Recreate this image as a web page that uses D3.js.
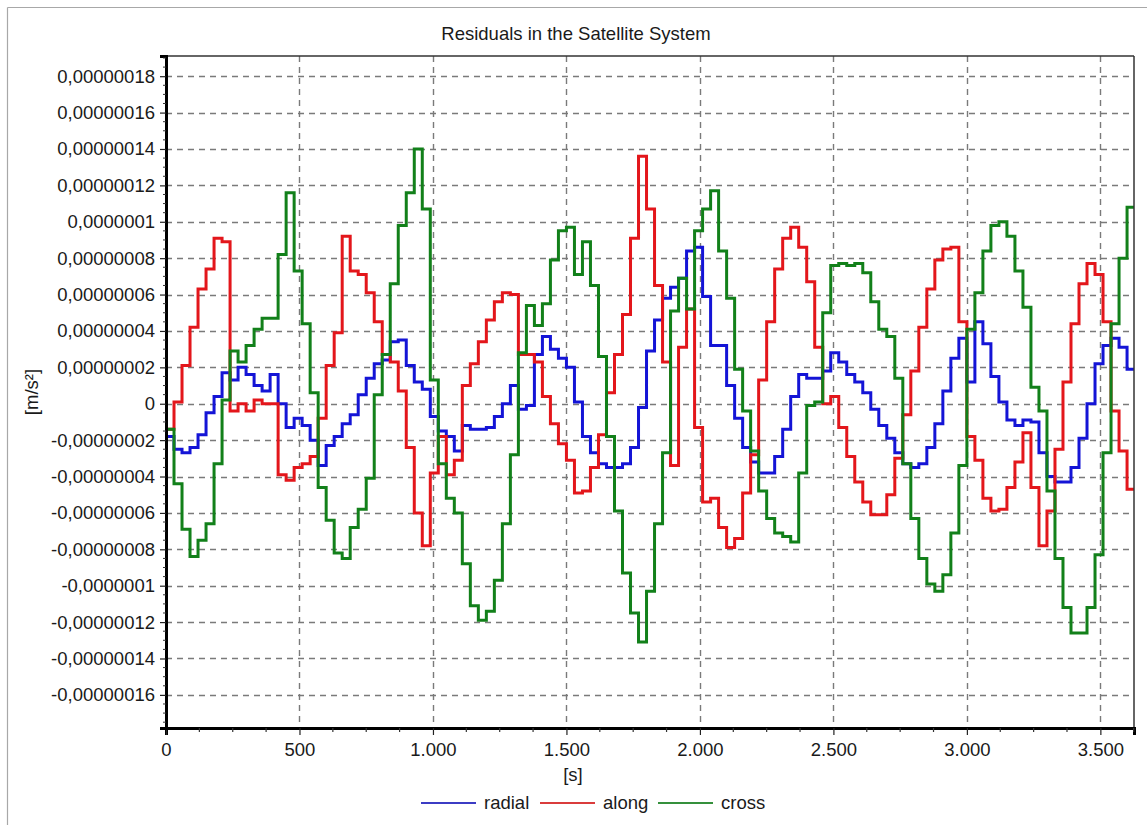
<!DOCTYPE html>
<html>
<head>
<meta charset="utf-8">
<script src="https://d3js.org/d3.v7.min.js"></script>
<style>
body { margin: 0; background: #fff; }
svg text { font-family: "Liberation Sans", Arial, sans-serif; fill: #1a1a1a; }
</style>
</head>
<body>
<script>
// residuals sampled every 30 s, values in units of 1e-8 m/s²
var stepSec = 30;
var unit = 1e-8;

var radial = [
  -1.8, -2.5, -2.7, -2.4, -1.7, -0.5, 0.4, 1.7, 1.3, 2.0, 1.6, 1.0, 0.7, 1.6, 0, -1.3, -0.8, -1.2, -2.0, -3.4,
  -2.3, -1.8, -1.1, -0.6, 0.5, 1.4, 2.2, 2.4, 3.4, 3.5, 2.1, 1.2, 0.8, -0.7, -1.5, -1.8, -2.6, -1.2, -1.4, -1.4,
  -1.3, -0.7, 0, 1.0, -0.3, -0.1, 2.7, 3.7, 3.0, 2.5, 2.0, 0.1, -1.8, -2.7, -3.3, -3.5, -3.5, -3.3, -2.4, -0.2,
  2.9, 4.6, 5.8, 6.4, 6.9, 8.4, 8.6, 5.9, 3.2, 3.2, 1.0, -0.8, -2.4, -3.2, -3.8, -3.8, -2.9, -1.4, 0.4, 1.6,
  1.4, 1.4, 1.8, 2.8, 2.3, 1.6, 1.2, 0.6, -0.3, -1.2, -1.9, -2.7, -3.3, -3.5, -3.3, -2.4, -1.1, 0.7, 2.5, 3.6,
  1.2, 4.5, 3.3, 1.5, 0.1, -0.9, -1.2, -0.9, -1.0, -2.7, -4.0, -4.3, -4.3, -3.5, -1.9, 0, 2.2, 3.2, 3.6, 3.1,
  1.9
];

var along = [
  -1.4, 0.1, 2.1, 4.2, 6.3, 7.4, 9.1, 8.9, -0.4, 0, -0.4, 0.2, 0, 0, -3.9, -4.2, -3.5, -3.3, -2.9, -0.8,
  2.1, 3.9, 9.2, 7.3, 7.1, 6.1, 4.5, 2.7, 2.3, 0.7, -2.4, -6.0, -7.8, -3.8, -1.8, -3.9, -3.1, 1.0, 2.2, 3.4,
  4.6, 5.6, 6.1, 6.0, 2.7, 2.7, 2.3, 0.4, -1.1, -2.2, -3.1, -4.9, -4.8, -3.5, -1.7, 0.6, 2.7, 4.9, 9.1, 13.6,
  10.7, 6.5, 2.3, -3.4, 3.1, 5.2, -1.3, -5.4, -5.2, -6.8, -7.9, -7.4, -4.9, -2.8, 1.3, 4.5, 7.4, 9.1, 9.7, 8.6,
  6.7, 3.1, 0, 0.4, -1.3, -2.9, -4.3, -5.4, -6.1, -6.1, -5.0, -3.0, -0.6, 1.8, 4.2, 6.3, 7.9, 8.5, 8.6, 4.5,
  -1.8, -3.1, -5.2, -5.9, -5.8, -4.6, -3.2, -1.6, -4.6, -7.8, -5.9, -2.5, 1.2, 4.4, 6.6, 7.7, 7.1, 4.5, -0.4, -2.6,
  -4.7
];

var cross = [
  -1.4, -4.4, -6.9, -8.4, -7.5, -6.6, -3.3, 0.2, 2.9, 2.3, 3.2, 4.1, 4.7, 4.7, 8.2, 11.6, 7.3, 4.4, 0.6, -4.6,
  -6.4, -8.2, -8.5, -6.8, -5.8, -4.1, 0.5, 2.7, 6.6, 9.8, 11.6, 14.0, 10.7, 1.3, -3.3, -5.2, -6.0, -8.8, -11.1, -11.9,
  -11.4, -9.7, -6.6, -2.8, 2.8, 5.4, 4.3, 5.5, 7.9, 9.5, 9.7, 7.1, 8.9, 6.5, 2.6, -1.8, -5.9, -9.3, -11.5, -13.1,
  -10.3, -6.6, -2.7, 5.1, 6.9, 5.2, 9.5, 10.7, 11.7, 8.4, 5.8, 1.9, -0.4, -2.6, -4.8, -6.3, -7.1, -7.3, -7.6, -3.8,
  -0.1, 0.1, 5.0, 7.6, 7.7, 7.6, 7.7, 7.2, 5.6, 4.1, 3.7, 1.4, -3.3, -6.3, -8.5, -9.9, -10.3, -9.4, -7.1, -3.4,
  4.1, 6.1, 8.4, 9.8, 10.0, 9.2, 7.3, 5.3, 0.9, -0.4, -4.8, -8.5, -11.2, -12.6, -12.6, -11.2, -8.3, -2.7, 4.4, 8.0,
  10.8
];

var seriesNames = ["radial", "along", "cross"];
var seriesColors = ["#1414d6", "#e3161b", "#12801a"];
var legendColors = ["#3c3cc4", "#da3c3c", "#35903c"];

var xTickValues = [0, 500, 1000, 1500, 2000, 2500, 3000, 3500];
var yTickSteps = [-16, -14, -12, -10, -8, -6, -4, -2, 0, 2, 4, 6, 8, 10, 12, 14, 16, 18];

var W = 1147, H = 825;
var margin = {left: 166, top: 56, right: 13, bottom: 97};
var pw = W - margin.left - margin.right;
var ph = H - margin.top - margin.bottom;
var fs = "18.5px";

var loc = d3.formatLocale({decimal: ",", thousands: ".", grouping: [3], currency: ["", ""], minus: "-"});
var fmtX = loc.format(",.0f");
var fmt8 = loc.format(".8f");
function fmtY(v) {
  var s = fmt8(v);
  s = s.replace(/0+$/, "").replace(/,$/, "");
  if (s === "-0") s = "0";
  return s;
}

var x = d3.scaleLinear().domain([0, 3626]).range([0, pw]);
var y = d3.scaleLinear().domain([-1.782e-7, 1.911e-7]).range([ph, 0]);

var svg = d3.select("body").append("svg")
    .attr("width", W)
    .attr("height", H);

// outer frame (top and left only)
svg.append("line").attr("x1", 7.5).attr("x2", W).attr("y1", 7.5).attr("y2", 7.5)
    .attr("stroke", "#a8a8a8").attr("stroke-width", 1.2);
svg.append("line").attr("x1", 7.5).attr("x2", 7.5).attr("y1", 7.5).attr("y2", H)
    .attr("stroke", "#a8a8a8").attr("stroke-width", 1.2);

svg.append("text")
    .attr("x", 576).attr("y", 40)
    .attr("text-anchor", "middle")
    .style("font-size", fs)
    .text("Residuals in the Satellite System");

var g = svg.append("g").attr("transform", "translate(" + margin.left + "," + margin.top + ")");

svg.append("defs").append("clipPath").attr("id", "plotclip")
  .append("rect").attr("x", 0).attr("y", 0).attr("width", pw).attr("height", ph);

// grid
var yTickValues = yTickSteps.map(function(s) { return s * unit; });
g.append("g").selectAll("line.gy")
    .data(yTickValues).enter().append("line")
    .attr("x1", 0).attr("x2", pw)
    .attr("y1", function(d) { return Math.round(y(d)) + 0.5; })
    .attr("y2", function(d) { return Math.round(y(d)) + 0.5; })
    .attr("stroke", "#7a7a7a").attr("stroke-width", 1.4)
    .attr("stroke-dasharray", "6,5");
g.append("g").selectAll("line.gx")
    .data(xTickValues.slice(1)).enter().append("line")
    .attr("x1", function(d) { return Math.round(x(d)) + 0.5; })
    .attr("x2", function(d) { return Math.round(x(d)) + 0.5; })
    .attr("y1", 0).attr("y2", ph)
    .attr("stroke", "#7a7a7a").attr("stroke-width", 1.4)
    .attr("stroke-dasharray", "6,5");

// series
var allSeries = [radial, along, cross];
var line = d3.line()
    .x(function(d) { return x(d.t); })
    .y(function(d) { return y(d.v); })
    .curve(d3.curveStepAfter);

allSeries.forEach(function(vals, i) {
  var pts = vals.map(function(v, k) { return {t: k * stepSec, v: v * unit}; });
  pts.push({t: vals.length * stepSec, v: vals[vals.length - 1] * unit});
  g.append("path")
      .datum(pts)
      .attr("clip-path", "url(#plotclip)")
      .attr("fill", "none")
      .attr("stroke", seriesColors[i])
      .attr("stroke-width", 3)
      .attr("stroke-linejoin", "miter")
      .attr("d", line);
});

// frame: thin top/right, thick left/bottom
g.append("line").attr("x1", 0).attr("x2", pw).attr("y1", 0).attr("y2", 0)
    .attr("stroke", "#333").attr("stroke-width", 1.5);
g.append("line").attr("x1", pw).attr("x2", pw).attr("y1", 0).attr("y2", ph)
    .attr("stroke", "#333").attr("stroke-width", 1.5);

// axes
var xAxis = d3.axisBottom(x).tickValues(xTickValues).tickFormat(fmtX).tickSize(7).tickPadding(8);
var gx = g.append("g").attr("transform", "translate(0," + ph + ")").call(xAxis);
gx.select(".domain").attr("stroke", "#000").attr("stroke-width", 3);
gx.selectAll(".tick line").attr("stroke", "#222").attr("stroke-width", 1.2);
gx.selectAll(".tick text").style("font-size", fs).attr("fill", "#1a1a1a");

var xMinor = d3.range(0, 3626, 125).filter(function(v) { return v % 500 !== 0; });
gx.selectAll("line.minor").data(xMinor).enter().append("line")
    .attr("x1", function(d) { return x(d); }).attr("x2", function(d) { return x(d); })
    .attr("y1", 0).attr("y2", 4)
    .attr("stroke", "#333").attr("stroke-width", 1.2);

var yAxis = d3.axisLeft(y).tickValues(yTickValues).tickFormat(fmtY).tickSize(6).tickPadding(5);
var gy = g.append("g").call(yAxis);
gy.select(".domain").attr("stroke", "#000").attr("stroke-width", 3);
gy.selectAll(".tick line").attr("stroke", "#222").attr("stroke-width", 1.2);
gy.selectAll(".tick text").style("font-size", fs).attr("fill", "#1a1a1a");

var yMinor = d3.range(-35, 39, 1).filter(function(s) { return s % 4 !== 0; })
    .map(function(s) { return s * 0.5 * unit; });
gy.selectAll("line.minor").data(yMinor).enter().append("line")
    .attr("x1", -3).attr("x2", 0)
    .attr("y1", function(d) { return y(d); }).attr("y2", function(d) { return y(d); })
    .attr("stroke", "#333").attr("stroke-width", 1);

// axis titles
svg.append("text")
    .attr("x", 573).attr("y", 781)
    .attr("text-anchor", "middle")
    .style("font-size", fs)
    .text("[s]");
svg.append("text")
    .attr("transform", "translate(38,392) rotate(-90)")
    .attr("text-anchor", "middle")
    .style("font-size", fs)
    .text("[m/s²]");

// legend
var legendX = [421, 540, 658];
var legend = svg.append("g").selectAll("g")
    .data(seriesNames).enter().append("g")
    .attr("transform", function(d, i) { return "translate(" + legendX[i] + ",803)"; });
legend.append("line")
    .attr("x1", 0).attr("x2", 55).attr("y1", 0).attr("y2", 0)
    .attr("stroke", function(d, i) { return legendColors[i]; })
    .attr("stroke-width", 1.8);
legend.append("text")
    .attr("x", 63).attr("y", 6)
    .style("font-size", fs)
    .text(function(d) { return d; });
</script>
</body>
</html>
